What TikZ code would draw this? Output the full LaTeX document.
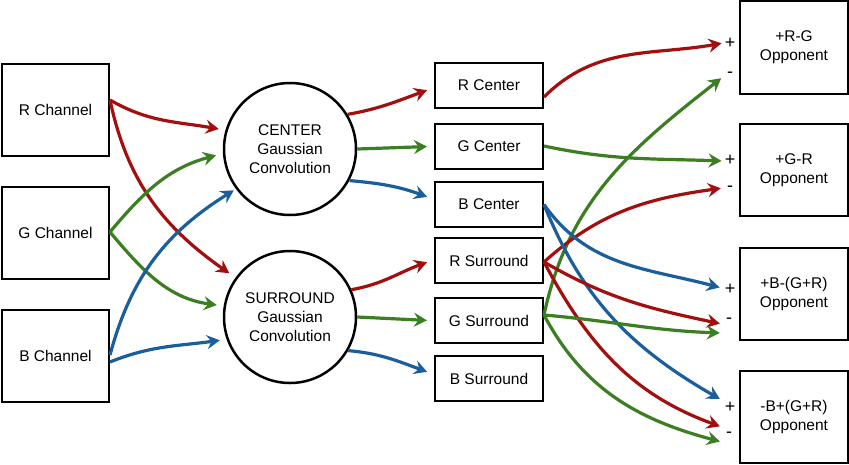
\documentclass[tikz,border=0pt]{standalone}
\usepackage{fontspec}
\setmainfont{Liberation Sans}
\usetikzlibrary{arrows.meta,calc}
\definecolor{cred}{HTML}{A30F0F}
\definecolor{cgreen}{HTML}{3C7E22}
\definecolor{cblue}{HTML}{1A5E9C}
\begin{document}
\begin{tikzpicture}[x=1pt,y=-1pt,
  font=\fontsize{15.5}{19}\selectfont,
  box/.style={draw=black,line width=2pt,minimum width=#1,align=center,inner sep=0pt},
  bigbox/.style={box=107pt,minimum height=92pt},
  midbox/.style={box=108pt,minimum height=45pt},
  oppbox/.style={box=108pt,minimum height=92pt},
  conv/.style={draw=black,line width=2.5pt,circle,minimum size=132pt,inner sep=0pt,align=center},
  sign/.style={inner sep=1pt,font=\fontsize{18}{19}\selectfont},
  arr/.style={line width=3.2pt,-{Stealth[length=13pt,width=14pt,inset=4.5pt]},shorten >=2pt},
  ra/.style={arr,draw=cred},
  ga/.style={arr,draw=cgreen},
  ba/.style={arr,draw=cblue}]
\useasboundingbox (0,0) rectangle (849,464);
% left boxes
\node[bigbox] (rch) at (55.5,110) {R Channel};
\node[bigbox] (gch) at (55.5,233) {G Channel};
\node[bigbox] (bch) at (55.5,356) {B Channel};
% circles
\node[conv] (cen) at (290,149) {CENTER\\Gaussian\\Convolution};
\node[conv] (sur) at (290,317) {SURROUND\\Gaussian\\Convolution};
% middle boxes
\node[midbox] (rc) at (489,85.5) {R Center};
\node[midbox] (gc) at (489,146.5) {G Center};
\node[midbox] (bc) at (489,204.5) {B Center};
\node[midbox] (rs) at (489,260.5) {R Surround};
\node[midbox] (gs) at (489,320.5) {G Surround};
\node[midbox] (bs) at (489,378.5) {B Surround};
% opponent boxes
\node[oppbox,minimum height=93pt] (o1) at (794,47.5) {+R-G\\Opponent};
\node[oppbox] (o2) at (794,170) {+G-R\\Opponent};
\node[oppbox] (o3) at (794,294) {+B-(G+R)\\Opponent};
\node[oppbox] (o4) at (794,417) {-B+(G+R)\\Opponent};
% signs
\node[sign] (p1) at (730,43) {+};
\node[sign] (m1) at (730,75) {-};
\node[sign] (p2) at (730,160) {+};
\node[sign] (m2) at (730,189) {-};
\node[sign] (p3) at (730,289) {+};
\node[sign] (m3) at (729,321) {-};
\node[sign] (p4) at (730,407) {+};
\node[sign] (m4) at (729,435) {-};
% channel -> convolutions
\draw[ra] ([yshift=10pt]rch.east) to[out=-30,in=170] ([xshift=-5pt]cen.163);
\draw[ra] ([yshift=10pt]rch.east) to[out=-78,in=145] ([xshift=-4pt,yshift=4pt]sur.145);
\draw[ga] ([yshift=1pt]gch.east) to[out=50,in=195] ([xshift=-5pt]cen.185);
\draw[ga] ([yshift=1pt]gch.east) to[out=-50,in=172] ([xshift=-5pt]sur.170);
\draw[ba] ([yshift=1pt]bch.east) to[out=75,in=212] ([xshift=-3pt,yshift=3pt]cen.220);
\draw[ba] ([yshift=-6pt]bch.east) to[out=22,in=188] ([xshift=-5pt]sur.200);
% convolutions -> middle boxes
\draw[ra] (cen.31) to[out=10,in=200] ([xshift=-5pt,yshift=-4pt]rc.west);
\draw[ga] (cen.east) -- ([xshift=-5pt]gc.west);
\draw[ba] (cen.-28) to[out=-5,in=160] ([xshift=-5pt,yshift=7pt]bc.west);
\draw[ra] (sur.24) to[out=10,in=200] ([xshift=-5pt,yshift=-1pt]rs.west);
\draw[ga] (sur.east) -- ([xshift=-5pt]gs.west);
\draw[ba] (sur.-30) to[out=-5,in=160] ([xshift=-5pt,yshift=6pt]bs.west);
% middle -> opponents
\draw[ra] ([yshift=-11.5pt]rc.east) to[out=45,in=190] (p1.west);
\draw[ga] ([yshift=0.5pt]gc.east) to[out=-12,in=178] ([yshift=-1pt]p2.west);
\draw[ga] ([yshift=5.5pt]gs.east) to[out=78,in=218] ([xshift=-3pt,yshift=-2pt]m1.west);
\draw[ra] ([yshift=-1.5pt]rs.east) to[out=42,in=188] ([xshift=-3pt,yshift=1pt]m2.west);
\draw[ba] (bc.east) to[out=-55,in=165] ([xshift=-2pt,yshift=1pt]p3.west);
\draw[ba] (bc.east) to[out=-68,in=150] ([xshift=-2pt,yshift=7pt]p4.west);
\draw[ra] ([yshift=-1.5pt]rs.east) to[out=-30,in=168] ([xshift=-3pt,yshift=-3pt]m3.west);
\draw[ra] ([yshift=-1.5pt]rs.east) to[out=-62,in=160] ([xshift=-3pt,yshift=8pt]m4.west);
\draw[ga] ([yshift=5.5pt]gs.east) to[out=-5,in=178] ([xshift=-3pt,yshift=-12pt]m3.west);
\draw[ga] ([yshift=5.5pt]gs.east) to[out=-62,in=165] ([xshift=-3pt,yshift=-7pt]m4.west);
\end{tikzpicture}
\end{document}
